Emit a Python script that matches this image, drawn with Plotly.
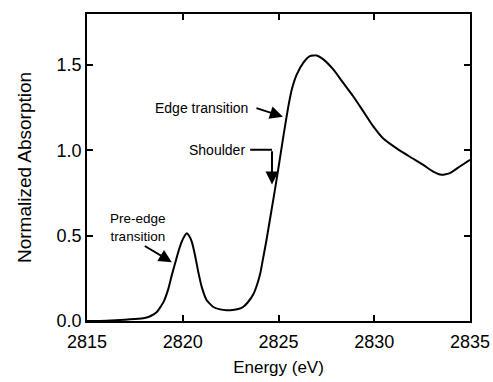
import plotly.graph_objects as go

# Sulfur K-edge XAS spectrum
energy_ev = [2815.0, 2816.0, 2817.0, 2817.5, 2818.0, 2818.3, 2818.65, 2819.0,
             2819.25, 2819.43, 2819.6, 2819.77, 2819.95, 2820.1, 2820.21, 2820.33,
             2820.47, 2820.64, 2820.81, 2820.99, 2821.25, 2821.6, 2821.95, 2822.3,
             2822.6, 2822.9, 2823.15, 2823.4, 2823.7, 2823.9, 2824.05, 2824.2,
             2824.35, 2824.5, 2824.65, 2824.8, 2825.0, 2825.25, 2825.5, 2825.7,
             2825.95, 2826.3, 2826.64, 2826.99, 2827.34, 2827.86, 2828.38, 2828.9,
             2829.43, 2829.95, 2830.47, 2831.17, 2831.86, 2832.56, 2833.08, 2833.52,
             2833.95, 2834.47, 2835.0]
absorption = [0.000, 0.002, 0.008, 0.012, 0.018, 0.028, 0.053, 0.112,
              0.190, 0.269, 0.338, 0.406, 0.465, 0.500, 0.514, 0.500,
              0.465, 0.386, 0.288, 0.200, 0.122, 0.082, 0.068, 0.063,
              0.064, 0.070, 0.082, 0.110, 0.160, 0.220, 0.280, 0.370,
              0.460, 0.560, 0.660, 0.760, 0.900, 1.080, 1.250, 1.360,
              1.445, 1.515, 1.553, 1.557, 1.534, 1.475, 1.396, 1.318,
              1.229, 1.141, 1.070, 1.012, 0.963, 0.915, 0.876, 0.857,
              0.867, 0.906, 0.945]

x_ticks = [2815, 2820, 2825, 2830, 2835]
y_ticks = [0.0, 0.5, 1.0, 1.5]
y_tick_text = ["0.0", "0.5", "1.0", "1.5"]

FONT = "Liberation Sans, Arial, Helvetica, sans-serif"

fig = go.Figure()
fig.add_trace(go.Scatter(
    x=energy_ev, y=absorption, mode="lines",
    line=dict(color="black", width=2, shape="spline", smoothing=0.5),
    hoverinfo="skip", showlegend=False,
))

axis_common = dict(
    showline=True, mirror="ticks", linecolor="black", linewidth=1.5,
    ticks="inside", ticklen=6, tickwidth=1.5, tickcolor="black",
    showgrid=False, zeroline=False, automargin=False,
    tickfont=dict(family=FONT, size=18, color="black"),
)

fig.update_xaxes(range=[2815, 2835], tickvals=x_ticks, ticklabelstandoff=4,
                 title=dict(text="Energy (eV)", font=dict(family=FONT, size=17, color="black"),
                            standoff=10),
                 **axis_common)
fig.update_yaxes(range=[0, 1.8], tickvals=y_ticks, ticktext=y_tick_text,
                 title=dict(text="Normalized Absorption", font=dict(family=FONT, size=19, color="black"),
                            standoff=20),
                 **axis_common)

ann_font = dict(family=FONT, size=14, color="black")
arrow = dict(showarrow=True, arrowhead=2, arrowsize=1.3, arrowwidth=2,
             arrowcolor="black", axref="x", ayref="y", text="", standoff=0)

annotations = [
    # labels
    dict(x=2823.51, y=1.251, text="Edge transition", xanchor="right", yanchor="middle",
         showarrow=False, font=ann_font),
    dict(x=2823.34, y=1.004, text="Shoulder", xanchor="right", yanchor="middle",
         showarrow=False, font=ann_font),
    dict(x=2817.64, y=0.551, text="Pre-edge<br>transition", xanchor="center",
         yanchor="middle", showarrow=False, font=dict(family=FONT, size=13.5, color="black")),
    # arrows
    dict(x=2825.23, y=1.198, ax=2823.77, ay=1.251, **arrow),
    dict(x=2824.66, y=0.80, ax=2824.66, ay=1.004, **arrow),
    dict(x=2819.43, y=0.345, ax=2817.94, ay=0.445, **arrow),
]

shapes = [
    dict(type="line", xref="x", yref="y", x0=2823.52, x1=2824.66, y0=1.004, y1=1.004,
         line=dict(color="black", width=2)),
]

fig.update_layout(
    width=493, height=382,
    margin=dict(l=87, r=23, t=14, b=61),
    paper_bgcolor="white", plot_bgcolor="white",
    annotations=annotations, shapes=shapes,
    font=dict(family=FONT, color="black"),
)

fig.write_html("out.html")
